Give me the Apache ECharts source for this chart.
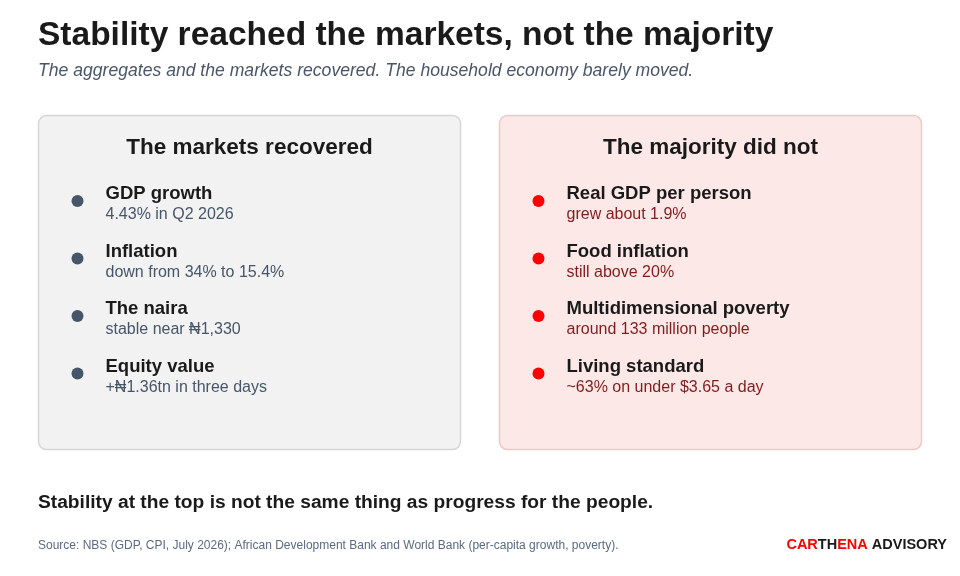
<!DOCTYPE html>
<html><head><meta charset="utf-8">
<script src="https://cdn.jsdelivr.net/npm/echarts@6/dist/echarts.min.js"></script>
<style>html,body{margin:0;padding:0;background:#fff}#c{width:960px;height:576px}</style>
</head><body><div id="c"></div>
<script>
const title = "Stability reached the markets, not the majority";
const subtitle = "The aggregates and the markets recovered. The household economy barely moved.";
const leftHeading = "The markets recovered";
const leftLabels = ["GDP growth", "Inflation", "The naira", "Equity value"];
const leftDetails = ["4.43% in Q2 2026", "down from 34% to 15.4%", "stable near ₦1,330", "+₦1.36tn in three days"];
const rightHeading = "The majority did not";
const rightLabels = ["Real GDP per person", "Food inflation", "Multidimensional poverty", "Living standard"];
const rightDetails = ["grew about 1.9%", "still above 20%", "around 133 million people", "~63% on under $3.65 a day"];
const takeaway = "Stability at the top is not the same thing as progress for the people.";
const source = "Source: NBS (GDP, CPI, July 2026); African Development Bank and World Bank (per-capita growth, poverty).";

const F = "'Liberation Sans', Arial, sans-serif";
const chart = echarts.init(document.getElementById('c'));
const g = [];
function panel(x, fill, stroke, heading, labels, details, dot, detailColor) {
  g.push({type:'rect', shape:{x:x, y:115.5, width:422, height:334, r:8}, style:{fill:fill, stroke:stroke, lineWidth:1.5}});
  g.push({type:'text', x:x+211, y:148, style:{text:heading, font:'bold 22.5px '+F, fill:'#1a1a1a', align:'center', verticalAlign:'middle'}});
  labels.forEach((l,i)=>{
    const y = 201 + i*57.5;
    g.push({type:'circle', shape:{cx:x+39, cy:y, r:6}, style:{fill:dot}});
    g.push({type:'text', x:x+67, y:y-7, style:{text:l, font:'bold 18.5px '+F, fill:'#1a1a1a', verticalAlign:'middle'}});
    g.push({type:'text', x:x+67, y:y+14, style:{text:details[i], font:'16px '+F, fill:detailColor, verticalAlign:'middle'}});
  });
}
g.push({type:'text', x:38, y:36, style:{text:title, font:'bold 33.5px '+F, fill:'#1a1a1a', verticalAlign:'middle'}});
g.push({type:'text', x:38, y:71, style:{text:subtitle, font:'italic 17.6px '+F, fill:'#4a5568', verticalAlign:'middle'}});
panel(38.5, '#f2f2f2', '#d6d6d6', leftHeading, leftLabels, leftDetails, '#475569', '#475569');
panel(499.5, '#fde8e8', '#f1c6c6', rightHeading, rightLabels, rightDetails, '#ff0000', '#7f1d1d');
g.push({type:'text', x:38, y:503, style:{text:takeaway, font:'bold 19.2px '+F, fill:'#1a1a1a', verticalAlign:'middle'}});
g.push({type:'text', x:38, y:546, style:{text:source, font:'12px '+F, fill:'#5a6a80', verticalAlign:'middle'}});
g.push({type:'text', x:947, y:545, style:{text:'{r|CAR}{d|TH}{r|ENA}{d| ADVISORY}', align:'right', verticalAlign:'middle',
  rich:{r:{font:'bold 14.5px '+F, fill:'#ff0000'}, d:{font:'bold 14.5px '+F, fill:'#1a1a1a'}}}});
chart.setOption({animation:false, graphic:{elements:g}});
</script></body></html>
